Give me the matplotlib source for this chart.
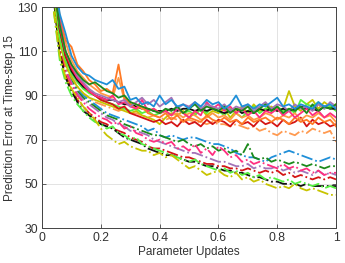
"""
Prediction error at time-step 15 against parameter updates.
Solid lines settle around 80-85, dash-dot lines keep falling to 45-70.
"""

import numpy as np
import matplotlib

matplotlib.use("Agg")
import matplotlib.pyplot as plt

plt.rcParams["font.family"] = ["Liberation Sans", "DejaVu Sans"]

# x positions of the samples (fraction of parameter updates)
updates = [0.04, 0.06, 0.08, 0.10, 0.12, 0.14, 0.16, 0.18, 0.20,
           0.22, 0.24, 0.26, 0.28, 0.30, 0.32, 0.34, 0.36, 0.38, 0.40,
           0.42, 0.44, 0.46, 0.48, 0.50, 0.52, 0.54, 0.56, 0.58, 0.60,
           0.62, 0.64, 0.66, 0.68, 0.70, 0.72, 0.74, 0.76, 0.78, 0.80,
           0.82, 0.84, 0.86, 0.88, 0.90, 0.92, 0.94, 0.96, 0.98, 1.00]

# ---- solid lines ----------------------------------------------------------
solid_blue = [146, 127, 118, 108, 103, 100, 99, 97, 96,
              95, 97, 93, 94, 88, 89, 86, 87, 85, 90,
              86, 88, 85, 86, 84, 87, 85, 88, 86, 87,
              84, 86, 90, 85, 86, 84, 86, 85, 87, 89,
              85, 86, 84, 86, 85, 84, 87, 85, 86, 84]
solid_orange = [150, 125, 115, 112, 104, 101, 97, 95, 92,
                93, 91, 104, 89, 86, 84, 85, 82, 81, 80,
                82, 79, 81, 78, 80, 79, 78, 81, 79, 78,
                80, 78, 79, 77, 80, 78, 79, 80, 78, 80,
                79, 77, 80, 78, 79, 77, 80, 78, 79, 76]
solid_lightorange = [147, 126, 114, 106, 101, 98, 95, 93, 91,
                     90, 89, 98, 88, 87, 86, 84, 83, 84, 82,
                     83, 81, 82, 80, 82, 81, 79, 80, 82, 80,
                     81, 79, 82, 80, 81, 79, 80, 82, 81, 79,
                     81, 80, 82, 79, 81, 80, 82, 80, 81, 78]
solid_green = [140, 122, 110, 104, 100, 97, 95, 96, 94,
               92, 91, 89, 90, 87, 86, 85, 84, 83, 82,
               84, 83, 85, 82, 84, 86, 83, 85, 84, 83,
               85, 82, 84, 83, 85, 82, 84, 86, 83, 85,
               82, 84, 83, 85, 82, 86, 83, 85, 84, 86]
solid_red = [142, 120, 108, 102, 98, 95, 92, 90, 88,
             87, 86, 84, 85, 82, 81, 80, 79, 78, 79,
             77, 78, 76, 79, 77, 78, 76, 79, 77, 79,
             78, 76, 79, 77, 78, 76, 79, 77, 78, 76,
             79, 77, 78, 80, 76, 79, 77, 78, 76, 77]
solid_purple = [145, 122, 110, 104, 99, 96, 93, 91, 90,
                89, 88, 87, 88, 85, 87, 89, 86, 88, 85,
                87, 89, 84, 86, 85, 87, 84, 86, 85, 84,
                86, 83, 85, 84, 86, 83, 85, 87, 84, 86,
                85, 83, 86, 84, 85, 83, 86, 84, 87, 85]
solid_pink = [148, 124, 110, 103, 98, 95, 92, 90, 89,
              88, 90, 86, 87, 85, 84, 88, 83, 84, 82,
              83, 81, 84, 82, 80, 83, 81, 87, 84, 86,
              83, 85, 82, 84, 81, 83, 80, 83, 82, 84,
              81, 83, 80, 82, 84, 81, 83, 80, 82, 80]
solid_black = [144, 120, 108, 101, 97, 94, 92, 90, 89,
               88, 88, 87, 86, 86, 85, 84, 84, 83, 83,
               83, 84, 83, 84, 84, 83, 84, 83, 84, 83,
               82, 83, 84, 82, 83, 82, 84, 83, 84, 83,
               84, 83, 84, 85, 84, 84, 83, 85, 84, 84]
solid_lime = [138, 116, 106, 100, 96, 93, 91, 90, 88,
              87, 86, 85, 84, 83, 84, 82, 83, 81, 82,
              83, 81, 84, 82, 83, 81, 84, 82, 85, 83,
              81, 84, 82, 80, 83, 85, 82, 84, 83, 85,
              83, 84, 82, 88, 86, 85, 87, 84, 85, 83]
solid_yellow = [135, 114, 104, 98, 94, 91, 89, 88, 87,
                86, 85, 84, 83, 82, 83, 81, 80, 79, 77,
                80, 82, 81, 83, 80, 82, 84, 81, 83, 82,
                84, 80, 83, 85, 82, 86, 83, 84, 85, 83,
                84, 92, 85, 83, 86, 88, 84, 87, 85, 86]

# ---- dash-dot lines -------------------------------------------------------
dd_orange = [140, 116, 106, 99, 94, 91, 89, 87, 86,
             85, 84, 83, 84, 82, 82, 81, 80, 81, 80,
             79, 80, 79, 78, 79, 78, 78, 77, 78, 77,
             77, 76, 77, 76, 75, 76, 74, 75, 73, 72,
             74, 73, 72, 74, 73, 75, 74, 73, 74, 69]
dd_blue = [138, 116, 104, 98, 93, 90, 88, 86, 84,
           82, 81, 80, 79, 78, 77, 76, 74, 75, 72,
           71, 72, 71, 70, 71, 71, 70, 69, 68, 68,
           67, 66, 64, 63, 62, 62, 61, 60, 62, 63,
           64, 65, 64, 63, 62, 61, 60, 61, 62, 61]
dd_green = [136, 114, 103, 97, 92, 89, 87, 85, 83,
            81, 80, 79, 77, 76, 75, 74, 73, 72, 72,
            71, 70, 69, 70, 68, 67, 68, 66, 67, 65,
            66, 64, 65, 63, 68, 62, 61, 62, 60, 61,
            60, 59, 60, 59, 58, 59, 58, 57, 58, 58]
dd_purple = [137, 114, 102, 96, 91, 88, 86, 84, 82,
             80, 79, 77, 76, 74, 74, 73, 72, 70, 69,
             68, 67, 66, 65, 64, 64, 63, 62, 61, 60,
             60, 59, 58, 58, 59, 57, 58, 57, 57, 58,
             56, 57, 55, 56, 55, 54, 56, 54, 55, 54]
dd_pink = [135, 112, 101, 95, 90, 87, 84, 82, 80,
           79, 77, 78, 75, 76, 73, 72, 70, 69, 70,
           68, 69, 66, 67, 65, 68, 64, 66, 63, 67,
           65, 62, 63, 60, 61, 59, 60, 59, 58, 57,
           59, 57, 58, 56, 57, 55, 56, 54, 55, 55]
dd_red = [134, 110, 99, 93, 88, 85, 82, 80, 78,
          77, 75, 74, 73, 71, 70, 69, 67, 66, 66,
          65, 64, 63, 62, 62, 61, 60, 59, 59, 58,
          58, 57, 57, 56, 57, 56, 55, 56, 55, 56,
          54, 55, 53, 54, 53, 52, 53, 52, 53, 52]
dd_black = [133, 109, 98, 92, 87, 83, 81, 79, 77,
            76, 75, 73, 71, 70, 69, 68, 66, 65, 64,
            63, 63, 62, 61, 60, 60, 59, 58, 58, 57,
            56, 56, 55, 55, 54, 53, 53, 52, 51, 51,
            50, 50, 50, 49, 50, 49, 49, 49, 49, 49]
dd_lime = [128, 106, 96, 90, 86, 83, 80, 78, 77,
           75, 76, 73, 72, 70, 71, 68, 67, 66, 65,
           64, 63, 62, 61, 60, 61, 59, 58, 57, 56,
           57, 55, 56, 54, 55, 53, 54, 52, 53, 52,
           51, 52, 50, 51, 50, 49, 50, 48, 49, 48]
dd_yellow = [128, 108, 98, 93, 89, 85, 82, 79, 75,
             72, 70, 68, 69, 67, 66, 65, 65, 63, 64,
             62, 63, 61, 59, 57, 58, 56, 54, 55, 56,
             54, 53, 55, 52, 53, 51, 52, 50, 49, 48,
             49, 48, 50, 48, 47, 48, 47, 46, 45, 45]

solid_lines = [
    (solid_yellow, "#c8c400"),
    (solid_lime, "#55f040"),
    (solid_black, "#111111"),
    (solid_red, "#d41515"),
    (solid_lightorange, "#ff9a45"),
    (solid_orange, "#ff7a25"),
    (solid_pink, "#ff2f80"),
    (solid_purple, "#a374b8"),
    (solid_green, "#1c8a1c"),
    (solid_blue, "#1f8fd8"),
]
dashdot_lines = [
    (dd_orange, "#ff9a50"),
    (dd_blue, "#1f8fd8"),
    (dd_green, "#1c8a1c"),
    (dd_purple, "#a374b8"),
    (dd_pink, "#ff2f80"),
    (dd_red, "#d41515"),
    (dd_black, "#111111"),
    (dd_lime, "#55f040"),
    (dd_yellow, "#c8c400"),
]

fig = plt.figure(figsize=(3.45, 2.63), dpi=100)
ax = fig.add_axes([0.122, 0.133, 0.852, 0.840])

for values, color in dashdot_lines:
    ax.plot(updates, values, linestyle="-.", color=color, linewidth=1.3)
for values, color in solid_lines:
    ax.plot(updates, values, linestyle="-", color=color, linewidth=1.3)

text_color = "#333333"
ax.set_xlim(0, 1)
ax.set_ylim(30, 130)
ax.set_xticks([0, 0.2, 0.4, 0.6, 0.8, 1])
ax.set_xticklabels(["0", "0.2", "0.4", "0.6", "0.8", "1"])
ax.set_yticks(np.arange(30, 131, 20))
ax.grid(True, color="#e3e3e3", linewidth=0.7)
ax.set_axisbelow(True)
ax.tick_params(direction="in", top=True, right=True, length=3, width=0.6,
               labelsize=8.8, colors="#444444", labelcolor=text_color, pad=3)
for spine in ax.spines.values():
    spine.set_color("#444444")
    spine.set_linewidth(0.7)
ax.set_xlabel("Parameter Updates", fontsize=8.5, color=text_color, labelpad=1)
ax.set_ylabel("Prediction Error at Time-step 15", fontsize=8.5,
              color=text_color, labelpad=1)

fig.savefig("out.png", dpi=100)
